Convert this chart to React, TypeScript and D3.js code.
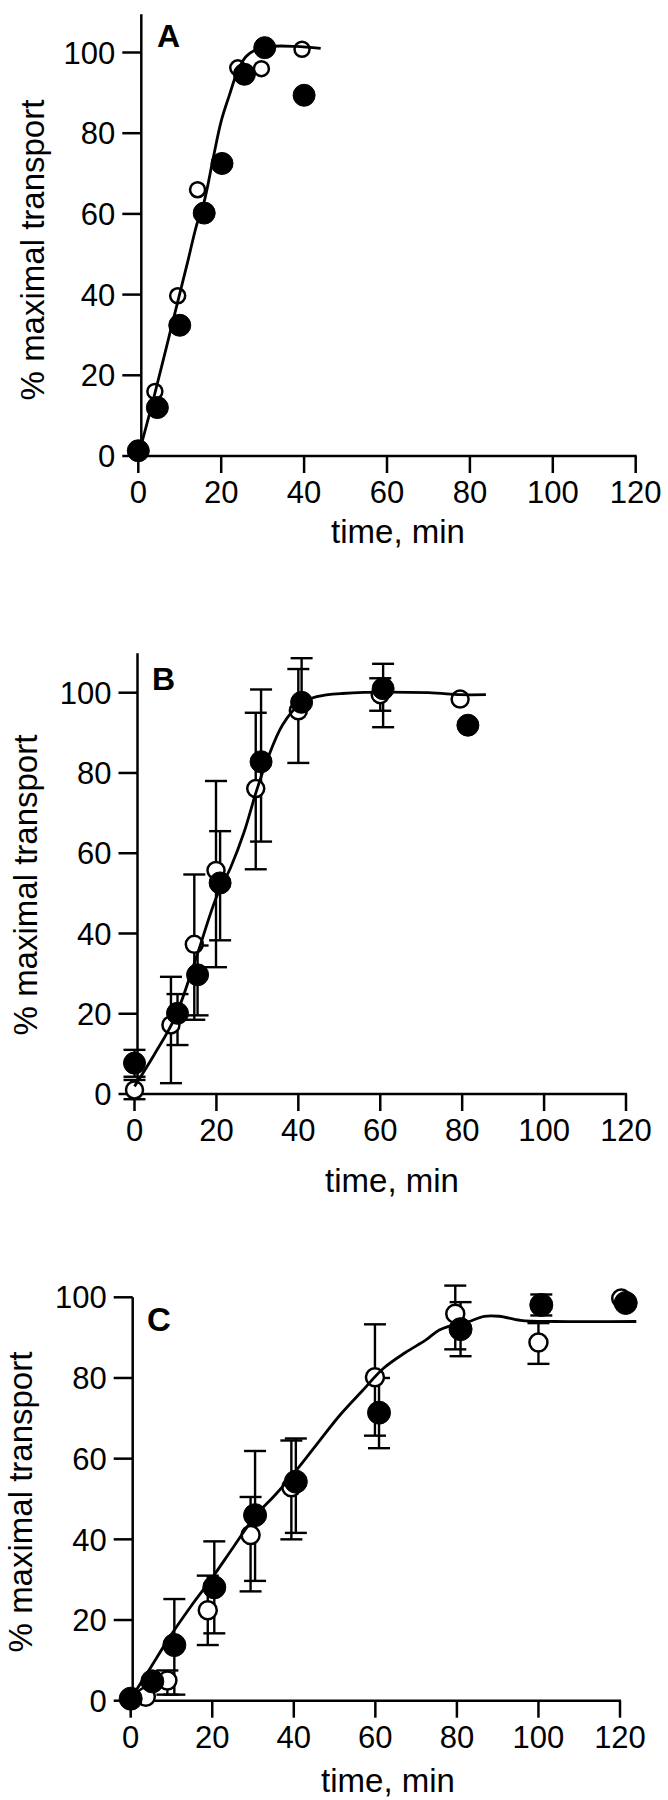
import React from "react";
import * as d3 from "d3";

// ---------- shared ticks ----------
const timeTicks = [0, 20, 40, 60, 80, 100, 120];
const pctTicks = [0, 20, 40, 60, 80, 100];

// ---------- Panel A ----------
const aOpenTime = [4, 9.5, 14.3, 24, 29.7, 39.5];
const aOpenValue = [16, 39.7, 66, 96.2, 96, 100.8];
const aFilledTime = [0, 4.6, 10, 15.9, 20.2, 25.6, 30.5, 40];
const aFilledValue = [1.3, 12, 32.4, 60.2, 72.5, 94.6, 101.2, 89.4];
const aCurveTime = [0, 4, 8, 12, 14, 16, 18, 20, 22, 24, 26, 28, 32, 38, 44];
const aCurveValue = [0, 15.5, 32, 48.5, 57, 63.5, 73.5, 83, 89.5, 95.5, 99, 100.5, 101.5, 101.5, 101];

// ---------- Panel B ----------
const bOpenTime = [0, 8.9, 14.6, 19.9, 29.6, 40, 60, 79.5];
const bOpenValue = [1, 17.2, 37.3, 55.7, 76.1, 95.5, 99.5, 98.4];
const bOpenHi: (number | null)[] = [3.5, 29.2, 54.7, 78, 95, 105.9, 103.6, null];
const bOpenLo: (number | null)[] = [-1.3, 2.7, 18.5, 31.6, 56, 82.5, 95.5, null];
const bFilledTime = [0, 10.5, 15.4, 20.9, 30.9, 40.8, 60.7, 81.4];
const bFilledValue = [7.7, 20.1, 29.7, 52.6, 82.8, 97.6, 101, 91.9];
const bFilledHi: (number | null)[] = [11, 24.9, 37, 65.5, 100.8, 108.6, 107.2, null];
const bFilledLo: (number | null)[] = [4.3, 12.2, 19.6, 38.3, 62.9, null, 91.4, null];
const bCurveTime = [0, 4.7, 9.9, 15.2, 19.9, 23.5, 26.7, 29.8, 32.4, 36.1, 40.3, 44.5, 50.7, 71.7, 79.5, 85.8];
const bCurveValue = [1.9, 9.6, 19.1, 34.4, 48.8, 56.5, 65.1, 75.6, 83.3, 91.9, 97.1, 99, 99.8, 100, 99.5, 99.5];

// ---------- Panel C ----------
const cOpenTime = [0, 3.7, 9, 18.9, 29.4, 39.4, 59.9, 79.6, 100, 120.3];
const cOpenValue = [0.3, 1, 5, 22.4, 41.1, 52.9, 80.2, 95.9, 88.8, 99.7];
const cOpenHi: (number | null)[] = [null, null, 7.5, 31, 50.5, 64.5, 93.3, 102.9, 93.6, null];
const cOpenLo: (number | null)[] = [null, null, 1.5, 13.8, 27.1, 40, 65.7, 87.1, 83.5, null];
const cFilledTime = [0, 5.3, 10.7, 20.5, 30.5, 40.5, 60.9, 80.9, 100.7, 121.4];
const cFilledValue = [0.5, 4.8, 13.8, 28.1, 46, 54.3, 71.4, 92.1, 98.1, 98.6];
const cFilledHi: (number | null)[] = [null, null, 25.2, 39.5, 61.9, 65, 80, 98.8, 100.7, null];
const cFilledLo: (number | null)[] = [null, null, 1.5, 16.7, 29.7, 41.6, 62.6, 85.4, 95.5, null];
const cCurveTime = [0, 4.2, 9.5, 14.7, 20, 25.2, 30.5, 35.7, 41, 46.2, 51.5, 56.7, 62, 67.2, 72.5, 75.7, 80.9, 83, 86.7, 90.4, 95.6, 104, 124];
const cCurveValue = [0.5, 7.1, 15.7, 23.3, 30.5, 38.1, 45.7, 51.3, 57.6, 64.3, 71, 76.7, 82.4, 86.2, 89.5, 91.9, 93.6, 94, 95.3, 95.3, 94.3, 94, 94];

const FONT = "'Liberation Sans', Arial, Helvetica, sans-serif";

type Series = {
  time: number[];
  value: number[];
  hi?: (number | null)[];
  lo?: (number | null)[];
};

type Layout = {
  x0: number; x120: number; y0: number; y100: number;
  axisTopValue: number; axisShift: number;
  letter: string; letterX: number; letterY: number; letterSize: number;
  yLabelX: number; yLabelY: number;
  xLabelX: number; xLabelY: number;
  openR: number; filledR: number;
};

function Panel({ L, open, filled, curveT, curveV }: { L: Layout; open: Series; filled: Series; curveT: number[]; curveV: number[] }) {
  const x = d3.scaleLinear().domain([0, 120]).range([L.x0, L.x120]);
  const y = d3.scaleLinear().domain([0, 100]).range([L.y0, L.y100]);
  const axisX = x(0) + L.axisShift;
  const line = d3
    .line<[number, number]>()
    .x((d) => x(d[0]))
    .y((d) => y(d[1]))
    .curve(d3.curveCatmullRom.alpha(0.5));
  const curvePts: [number, number][] = curveT.map((t, i) => [t, curveV[i]]);
  const capW = 11;
  const sw = 2.4;

  const bars = (s: Series, key: string) =>
    s.time.map((t, i) => {
      const cx = x(t);
      const v = s.value[i];
      const els: JSX.Element[] = [];
      const hi = s.hi ? s.hi[i] : null;
      const lo = s.lo ? s.lo[i] : null;
      if (hi != null) {
        els.push(<line key={`${key}h${i}`} x1={cx} x2={cx} y1={y(v)} y2={y(hi)} stroke="#000" strokeWidth={sw} />);
        els.push(<line key={`${key}hc${i}`} x1={cx - capW} x2={cx + capW} y1={y(hi)} y2={y(hi)} stroke="#000" strokeWidth={sw} />);
      }
      if (lo != null) {
        els.push(<line key={`${key}l${i}`} x1={cx} x2={cx} y1={y(v)} y2={y(lo)} stroke="#000" strokeWidth={sw} />);
        els.push(<line key={`${key}lc${i}`} x1={cx - capW} x2={cx + capW} y1={y(lo)} y2={y(lo)} stroke="#000" strokeWidth={sw} />);
      }
      return els;
    });

  return (
    <g>
      {/* axes */}
      <line x1={axisX} x2={axisX} y1={y(L.axisTopValue)} y2={y(0)} stroke="#000" strokeWidth={2.5} />
      <line x1={axisX - 1} x2={x(120) + 1} y1={y(0)} y2={y(0)} stroke="#000" strokeWidth={2.5} />
      {pctTicks.map((p) => (
        <g key={`yt${p}`}>
          <line x1={axisX - 19} x2={axisX} y1={y(p)} y2={y(p)} stroke="#000" strokeWidth={2.5} />
          <text x={axisX - 26} y={y(p)} dy="0.36em" textAnchor="end" fontFamily={FONT} fontSize={31} fill="#000">
            {p}
          </text>
        </g>
      ))}
      {timeTicks.map((t) => (
        <g key={`xt${t}`}>
          <line x1={x(t)} x2={x(t)} y1={y(0)} y2={y(0) + 17} stroke="#000" strokeWidth={2.5} />
          <text x={x(t)} y={y(0) + 47} textAnchor="middle" fontFamily={FONT} fontSize={31} fill="#000">
            {t}
          </text>
        </g>
      ))}
      <text x={L.xLabelX} y={L.xLabelY} textAnchor="middle" fontFamily={FONT} fontSize={33} fill="#000">
        time, min
      </text>
      <text
        transform={`translate(${L.yLabelX},${L.yLabelY}) rotate(-90)`}
        textAnchor="middle"
        fontFamily={FONT}
        fontSize={33}
        fill="#000"
      >
        % maximal transport
      </text>
      <text x={L.letterX} y={L.letterY} fontFamily={FONT} fontWeight="bold" fontSize={L.letterSize} fill="#000">
        {L.letter}
      </text>

      {/* error bars */}
      {bars(open, "o")}
      {bars(filled, "f")}

      {/* open circles */}
      {open.time.map((t, i) => (
        <circle key={`oc${i}`} cx={x(t)} cy={y(open.value[i])} r={L.openR} fill="#fff" stroke="#000" strokeWidth={2.5} />
      ))}

      {/* fitted curve */}
      <path d={line(curvePts) || ""} fill="none" stroke="#000" strokeWidth={2.8} />

      {/* filled circles */}
      {filled.time.map((t, i) => (
        <circle key={`fc${i}`} cx={x(t)} cy={y(filled.value[i])} r={L.filledR} fill="#000" stroke="#000" strokeWidth={1} />
      ))}
    </g>
  );
}

const layoutA: Layout = {
  x0: 138.3, x120: 635.7, y0: 456, y100: 52.5, axisTopValue: 109.5, axisShift: 3,
  letter: "A", letterX: 157, letterY: 47, letterSize: 32,
  yLabelX: 44, yLabelY: 250, xLabelX: 398, xLabelY: 543,
  openR: 7.5, filledR: 11,
};
const layoutB: Layout = {
  x0: 134.5, x120: 626, y0: 1094, y100: 692.7, axisTopValue: 109.8, axisShift: 3,
  letter: "B", letterX: 152, letterY: 690, letterSize: 32,
  yLabelX: 37, yLabelY: 885, xLabelX: 392, xLabelY: 1192,
  openR: 8.5, filledR: 11,
};
const layoutC: Layout = {
  x0: 130.7, x120: 620, y0: 1700.7, y100: 1297.3, axisTopValue: 100, axisShift: 2,
  letter: "C", letterX: 147, letterY: 1331, letterSize: 33,
  yLabelX: 32, yLabelY: 1502, xLabelX: 388, xLabelY: 1792,
  openR: 9, filledR: 11.5,
};

export default function App() {
  return (
    <svg
      width={668}
      height={1800}
      viewBox="0 0 668 1800"
      style={{ position: "absolute", left: 0, top: 0, background: "#fff" }}
    >
      <rect x={0} y={0} width={668} height={1800} fill="#fff" />
      <Panel
        L={layoutA}
        open={{ time: aOpenTime, value: aOpenValue }}
        filled={{ time: aFilledTime, value: aFilledValue }}
        curveT={aCurveTime}
        curveV={aCurveValue}
      />
      <Panel
        L={layoutB}
        open={{ time: bOpenTime, value: bOpenValue, hi: bOpenHi, lo: bOpenLo }}
        filled={{ time: bFilledTime, value: bFilledValue, hi: bFilledHi, lo: bFilledLo }}
        curveT={bCurveTime}
        curveV={bCurveValue}
      />
      <Panel
        L={layoutC}
        open={{ time: cOpenTime, value: cOpenValue, hi: cOpenHi, lo: cOpenLo }}
        filled={{ time: cFilledTime, value: cFilledValue, hi: cFilledHi, lo: cFilledLo }}
        curveT={cCurveTime}
        curveV={cCurveValue}
      />
    </svg>
  );
}
